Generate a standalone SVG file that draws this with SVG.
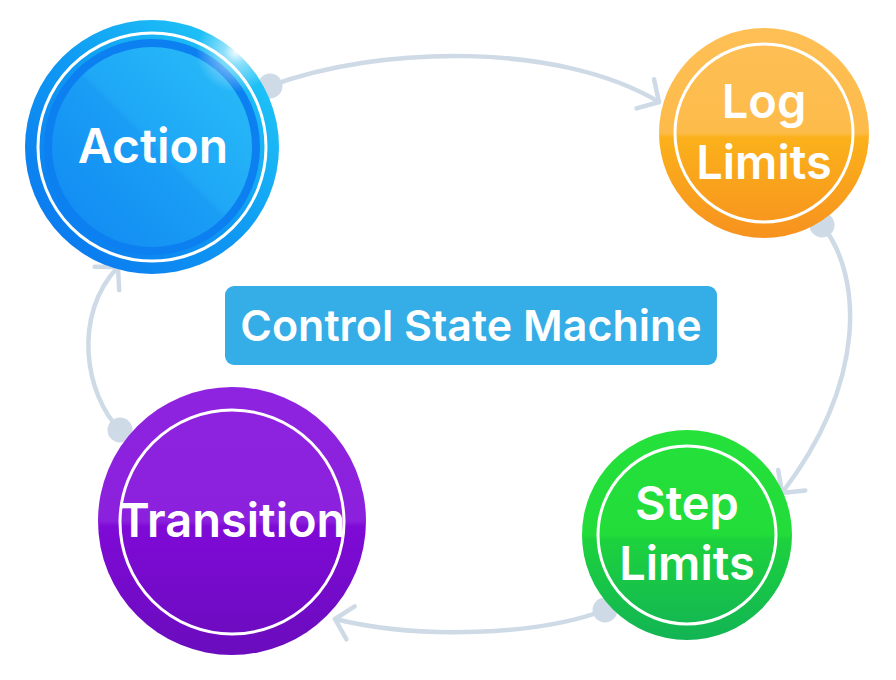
<svg xmlns="http://www.w3.org/2000/svg" width="896" height="680" viewBox="0 0 896 680">
<style>
.lbl{font-family:Inter,"Noto Sans","Liberation Sans",sans-serif;font-weight:600;fill:#fff;text-anchor:middle}
.ring{fill:none;stroke:#fff;stroke-width:3}
.conn{fill:none;stroke:#CFDAE7;stroke-width:4.5;stroke-linecap:round}
.dot{fill:#CFDAE7}
</style>
<defs>
<marker id="arr" markerUnits="userSpaceOnUse" viewBox="-30 -30 40 60" refX="0" refY="0" markerWidth="40" markerHeight="60" orient="auto" overflow="visible">
<path d="M-16,-17 L0,0 L-16,17" fill="none" stroke="#CFDAE7" stroke-width="4.5" stroke-linecap="round" stroke-linejoin="round"/>
</marker>
<linearGradient id="gAo" x1="0" y1="1" x2="1" y2="0">
<stop offset="0" stop-color="#0A70EE"/><stop offset="0.5" stop-color="#0F9AF3"/><stop offset="1" stop-color="#24D4F8"/>
</linearGradient>
<linearGradient id="gAi" x1="0" y1="1" x2="1" y2="0">
<stop offset="0" stop-color="#1088F2"/><stop offset="0.5" stop-color="#1A9EF5"/><stop offset="0.52" stop-color="#1EA7F6"/><stop offset="1" stop-color="#2ABFF8"/>
</linearGradient>
<radialGradient id="gGlint" cx="0.5" cy="0.5" r="0.5">
<stop offset="0" stop-color="#fff" stop-opacity="0.95"/><stop offset="0.3" stop-color="#fff" stop-opacity="0.5"/><stop offset="1" stop-color="#fff" stop-opacity="0"/>
</radialGradient>
<linearGradient id="gL" x1="0" y1="0" x2="0" y2="1">
<stop offset="0" stop-color="#FEBF55"/><stop offset="0.5" stop-color="#FDBB4A"/><stop offset="0.52" stop-color="#FBB11B"/><stop offset="1" stop-color="#F7921F"/>
</linearGradient>
<linearGradient id="gS" x1="0" y1="0" x2="0" y2="1">
<stop offset="0" stop-color="#25E13A"/><stop offset="0.5" stop-color="#22DC3A"/><stop offset="0.52" stop-color="#1DD23D"/><stop offset="1" stop-color="#12B454"/>
</linearGradient>
<linearGradient id="gT" x1="0" y1="0" x2="0" y2="1">
<stop offset="0" stop-color="#8E24DF"/><stop offset="0.5" stop-color="#8B20DD"/><stop offset="0.52" stop-color="#7F0AD6"/><stop offset="1" stop-color="#6A0CBD"/>
</linearGradient>
</defs>

<g id="connectors">
<path class="conn" d="M270,86 C380,45 559,42 659,102" marker-end="url(#arr)"/>
<circle class="dot" cx="270" cy="86" r="12.5"/>
<path class="conn" d="M822,225 C862,275 868,380 782,493" marker-end="url(#arr)"/>
<circle class="dot" cx="822" cy="225" r="12.5"/>
<path class="conn" d="M605,610 C540,635 420,640 335,619" marker-end="url(#arr)"/>
<circle class="dot" cx="605" cy="610" r="12.5"/>
<path class="conn" d="M120,430 C85,395 72,315 118,267" marker-end="url(#arr)"/>
<circle class="dot" cx="120" cy="430" r="12.5"/>
</g>

<g id="action">
<circle cx="152" cy="147" r="127" fill="url(#gAo)"/>
<circle cx="152" cy="147" r="108" fill="#0C80F0"/>
<circle cx="152" cy="147" r="100" fill="url(#gAi)"/>
<circle class="ring" cx="152" cy="147" r="114"/>
<circle cx="236" cy="52" r="40" fill="url(#gGlint)"/>
<text class="lbl" x="153" y="163" font-size="48">Action</text>
</g>

<g id="log-limits">
<circle cx="764" cy="133" r="105" fill="url(#gL)"/>
<circle class="ring" cx="764" cy="133" r="89"/>
<text class="lbl" x="764" y="118" font-size="47">Log</text>
<text class="lbl" x="764" y="179" font-size="47">Limits</text>
</g>

<g id="step-limits">
<circle cx="687" cy="535" r="105" fill="url(#gS)"/>
<circle class="ring" cx="687" cy="535" r="89"/>
<text class="lbl" x="687" y="520" font-size="47">Step</text>
<text class="lbl" x="687" y="580" font-size="47">Limits</text>
</g>

<g id="transition">
<circle cx="232" cy="521" r="134" fill="url(#gT)"/>
<circle class="ring" cx="232" cy="522" r="112"/>
<text class="lbl" x="232" y="537" font-size="47">Transition</text>
</g>

<g id="title">
<rect x="225" y="286" width="492" height="79" rx="9" fill="#35ADE6"/>
<text class="lbl" x="471" y="341" font-size="43" font-weight="500">Control State Machine</text>
</g>
</svg>
